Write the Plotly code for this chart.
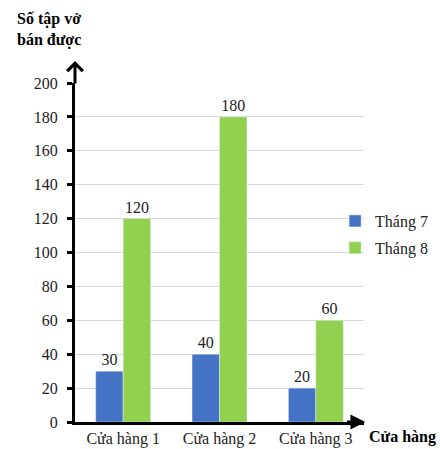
import plotly.graph_objects as go

# Notebook sales per store, July vs August
stores = ["Cửa hàng 1", "Cửa hàng 2", "Cửa hàng 3"]
thang_7 = [30, 40, 20]
thang_8 = [120, 180, 60]
y_ticks = [0, 20, 40, 60, 80, 100, 120, 140, 160, 180, 200]

FONT = "Liberation Serif, Times New Roman, serif"
BLUE = "#4472C4"
GREEN = "#92D050"
TEXT = "#222"

fig = go.Figure()
fig.add_trace(go.Bar(
    name="Tháng 7", x=stores, y=thang_7, marker_color=BLUE, legendgroup="t7",
    text=thang_7, textposition="outside", cliponaxis=False,
    textfont=dict(family=FONT, size=16, color=TEXT),
))
fig.add_trace(go.Bar(
    name="Tháng 8", x=stores, y=thang_8, marker_color=GREEN, legendgroup="t8",
    text=thang_8, textposition="outside", cliponaxis=False,
    textfont=dict(family=FONT, size=16, color=TEXT),
))

fig.update_layout(
    width=440, height=449,
    margin=dict(l=75, r=76, t=83, b=27, autoexpand=False),
    paper_bgcolor="white", plot_bgcolor="white",
    barmode="group", bargap=0.43, bargroupgap=0,
    font=dict(family=FONT, size=16, color=TEXT),
    showlegend=True,
    legend=dict(
        x=0.90, y=0.643, xanchor="left", yanchor="top",
        bgcolor="rgba(0,0,0,0)", font=dict(family=FONT, size=16, color=TEXT),
        itemwidth=30, tracegroupgap=3, traceorder="grouped",
    ),
    xaxis=dict(
        showline=True, linecolor="black", linewidth=3,
        ticks="", showgrid=False,
        tickfont=dict(family=FONT, size=16, color=TEXT),
    ),
    yaxis=dict(
        range=[0, 200], tickvals=y_ticks,
        showline=True, linecolor="black", linewidth=3,
        ticks="outside", ticklen=5, tickwidth=3, tickcolor="black",
        ticklabelstandoff=6,
        showgrid=True, gridcolor="#d9d9d9", gridwidth=1,
        zeroline=False,
        tickfont=dict(family=FONT, size=16, color=TEXT),
    ),
)

# Axis arrows
fig.add_annotation(xref="paper", yref="paper", x=0, y=1.065, ax=0, ay=24,
                   showarrow=True, arrowhead=4, arrowsize=1, arrowwidth=3,
                   arrowcolor="black", text="")
fig.add_annotation(xref="paper", yref="paper", x=1.005, y=0, ax=-20, ay=0,
                   showarrow=True, arrowhead=2, arrowsize=1, arrowwidth=3,
                   arrowcolor="black", text="")

# Axis titles
fig.add_annotation(xref="paper", yref="paper", x=-0.208, y=1.095,
                   xanchor="left", yanchor="bottom", align="left",
                   showarrow=False, text="<b>Số tập vở<br>bán được</b>",
                   font=dict(family=FONT, size=16, color="black"))
fig.add_annotation(xref="paper", yref="paper", x=1.012, y=-0.045,
                   xanchor="left", yanchor="middle", showarrow=False,
                   text="<b>Cửa hàng</b>",
                   font=dict(family=FONT, size=16, color="black"))

fig.write_html("out.html")
